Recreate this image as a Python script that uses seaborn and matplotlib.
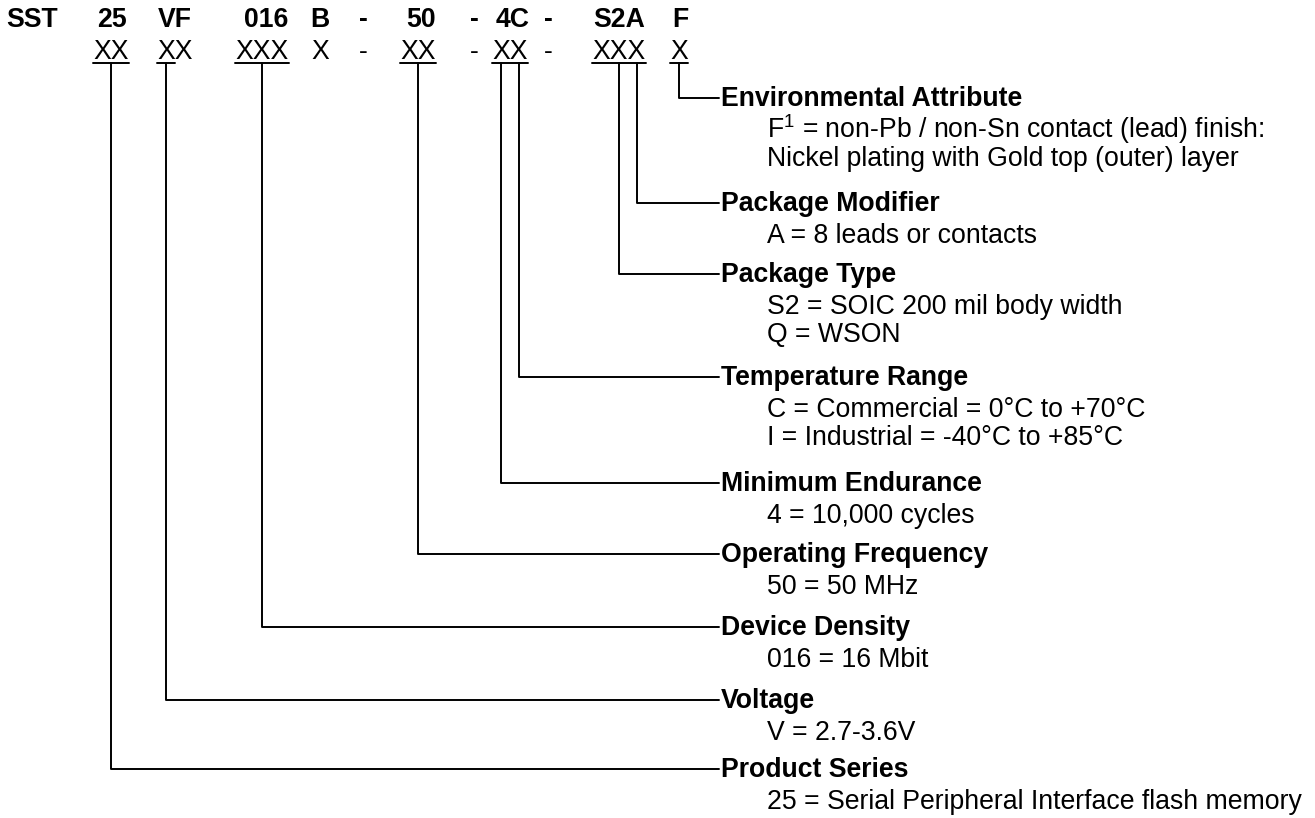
import matplotlib
matplotlib.use('Agg')
import matplotlib.pyplot as plt
import seaborn as sns
import pandas as pd

# part number, top row and its field mask below
part_tokens = ['SST', '25', 'VF', '016', 'B', '-', '50', '-', '4C', '-', 'S2A', 'F']
mask_tokens = ['', 'XX', 'XX', 'XXX', 'X', '-', 'XX', '-', 'XX', '-', 'XXX', 'X']
# how many leading characters of each mask token are underlined
mask_underlined = [0, 2, 1, 3, 0, 0, 2, 0, 2, 0, 3, 1]

# fields, top to bottom
fields = ['Environmental Attribute', 'Package Modifier', 'Package Type',
          'Temperature Range', 'Minimum Endurance', 'Operating Frequency',
          'Device Density', 'Voltage', 'Product Series']
descriptions = [
    ['F$^1$ = non-Pb / non-Sn contact (lead) finish:',
     'Nickel plating with Gold top (outer) layer'],
    ['A = 8 leads or contacts'],
    ['S2 = SOIC 200 mil body width', 'Q = WSON'],
    ['C = Commercial = 0°C to +70°C', 'I = Industrial = -40°C to +85°C'],
    ['4 = 10,000 cycles'],
    ['50 = 50 MHz'],
    ['016 = 16 Mbit'],
    ['V = 2.7-3.6V'],
    ['25 = Serial Peripheral Interface flash memory'],
]
# which mask token / character each field points at (None = whole token)
field_token = [11, 10, 10, 8, 8, 6, 3, 2, 1]
field_char = [0, 2, 1, 1, 0, None, None, 0, None]

# layout (pixels)
W, H = 1315, 818
top_x = [32, 112, 175, 266, 320, 363, 421, 474, 513, 548, 619, 680]
mask_x = [None, 111, 175, 262, 320, 363, 418, 474, 510, 548, 619, 679]
top_base, mask_base, uline_y = 27, 59, 62.5
head_y = [98, 203, 274, 377, 483, 554, 627, 700, 769]
head_x, desc_x = 721, 767
fs = 19.2

sns.set_theme(style='white')
plt.rcParams['font.family'] = ['Liberation Sans', 'DejaVu Sans']
plt.rcParams['mathtext.default'] = 'regular'

fig = plt.figure(figsize=(W / 100, H / 100), dpi=100)
ax = fig.add_axes([0, 0, 1, 1])
ax.set_xlim(0, W)
ax.set_ylim(H, 0)
ax.axis('off')

for tok, x in zip(part_tokens, top_x):
    ax.text(x, top_base, tok, ha='center', va='baseline', fontsize=fs,
            fontweight='bold', color='black')

fig.canvas.draw()
renderer = fig.canvas.get_renderer()
inv = ax.transData.inverted()

# mask row, underlines, and character centres
char_spans = {}
ulines = []
for i, (tok, x) in enumerate(zip(mask_tokens, mask_x)):
    if not tok:
        continue
    t = ax.text(x, mask_base, tok, ha='center', va='baseline', fontsize=fs,
                color='black')
    bb = t.get_window_extent(renderer)
    x0 = inv.transform((bb.x0, 0))[0]
    x1 = inv.transform((bb.x1, 0))[0]
    cw = (x1 - x0) / len(tok)
    char_spans[i] = (x0, cw, len(tok))
    n = mask_underlined[i]
    if n:
        ulines.append(pd.DataFrame({'x': [x0, x0 + n * cw], 'y': [uline_y, uline_y],
                                    'seg': f'u{i}'}))

# connectors
paths = []
for k, f in enumerate(fields):
    x0, cw, n = char_spans[field_token[k]]
    c = field_char[k]
    xc = x0 + (c + 0.5) * cw if c is not None else x0 + n * cw / 2
    paths.append(pd.DataFrame({'x': [xc, xc, head_x - 2],
                               'y': [uline_y, head_y[k], head_y[k]],
                               'seg': f}))
lines_df = pd.concat(ulines + paths, ignore_index=True)
sns.lineplot(data=lines_df, x='x', y='y', units='seg', estimator=None,
             sort=False, color='black', lw=1.4, ax=ax, legend=False)

for k, f in enumerate(fields):
    hb = head_y[k] + 8
    ax.text(head_x, hb, f, ha='left', va='baseline', fontsize=fs,
            fontweight='bold', color='black')
    for j, d in enumerate(descriptions[k]):
        ax.text(desc_x, hb + 32 + 28 * j, d, ha='left', va='baseline',
                fontsize=fs, color='black')

ax.set_xlim(0, W)
ax.set_ylim(H, 0)
ax.axis('off')
fig.savefig('out.png', dpi=100, facecolor='white')
